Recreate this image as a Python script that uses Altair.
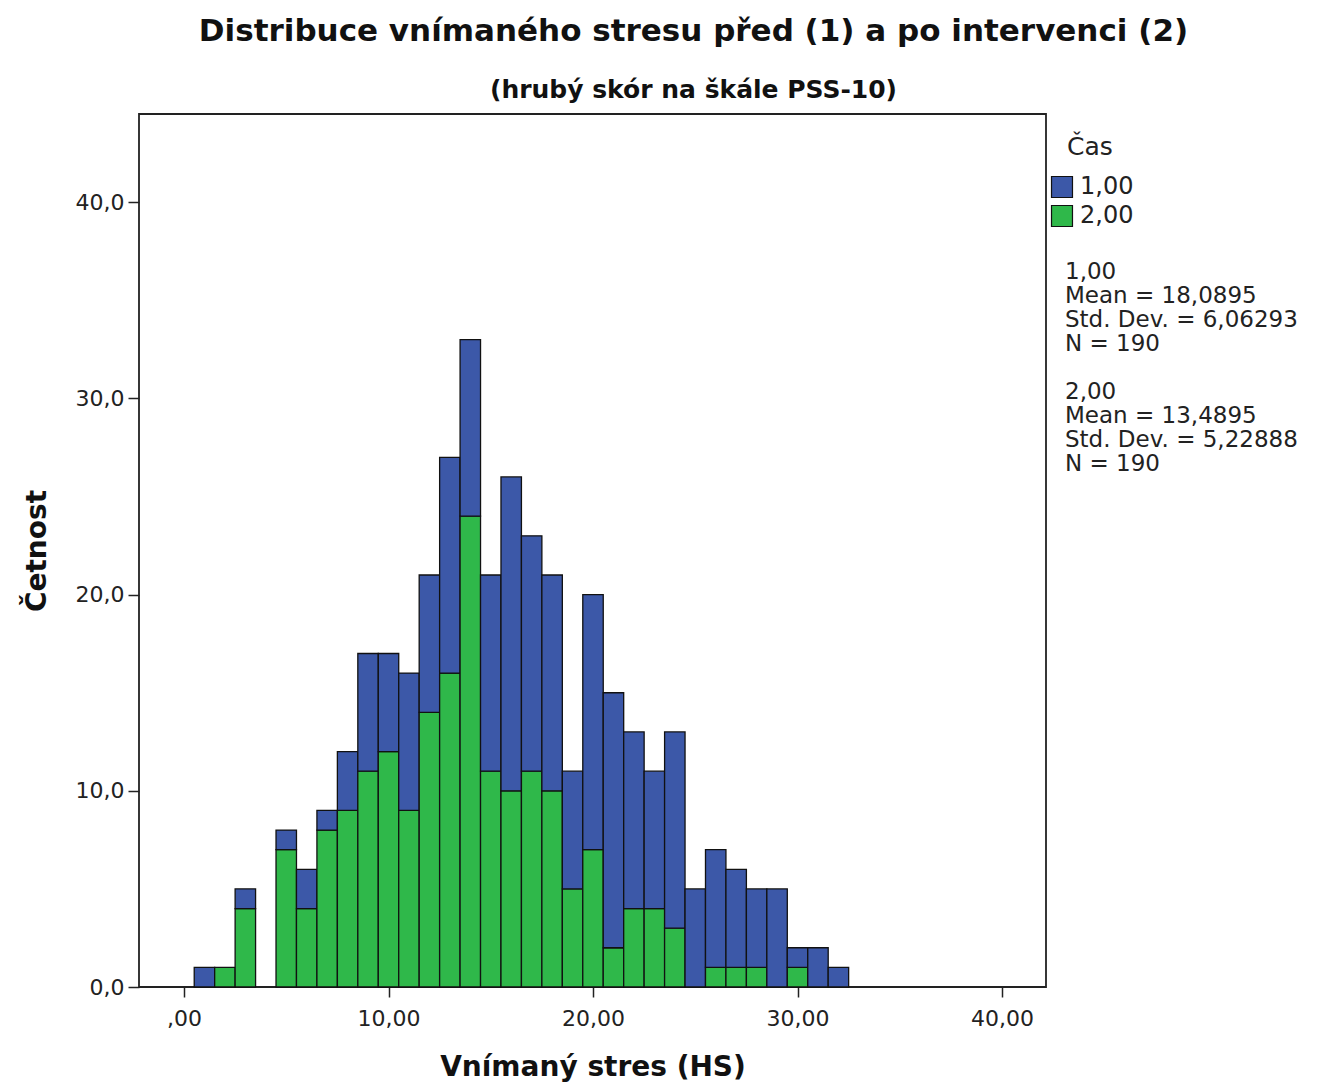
import altair as alt
import pandas as pd

# Data
scores = list(range(1, 33))
time1_counts = [1, 0, 1, 0, 1, 2, 1, 3, 6, 5, 7, 7, 11, 9, 10, 16, 12, 11, 6, 13, 13, 9, 7, 10, 5, 6, 5, 4, 5, 1, 2, 1]
time2_counts = [0, 1, 4, 0, 7, 4, 8, 9, 11, 12, 9, 14, 16, 24, 11, 10, 11, 10, 5, 7, 2, 4, 4, 3, 0, 1, 1, 1, 0, 1, 0, 0]
series_labels = ["1,00", "2,00"]
series_colors = ["#3C58A8", "#2FB84A"]
stats_1 = ["1,00", "Mean = 18,0895", "Std. Dev. = 6,06293", "N = 190"]
stats_2 = ["2,00", "Mean = 13,4895", "Std. Dev. = 5,22888", "N = 190"]

rows = []
for s, b, g in zip(scores, time1_counts, time2_counts):
    if g > 0:
        rows.append(dict(x0=s - 0.5, x1=s + 0.5, y0=0, y1=g, cas="2,00"))
    if b > 0:
        rows.append(dict(x0=s - 0.5, x1=s + 0.5, y0=g, y1=g + b, cas="1,00"))
df = pd.DataFrame(rows)

FONT = "DejaVu Sans"
W, H = 907, 873

x_scale = alt.Scale(domain=[-2.2, 42.15], nice=False, zero=False)
y_scale = alt.Scale(domain=[0, 44.5], nice=False)

bars = alt.Chart(df).mark_rect(stroke="#111111", strokeWidth=1.3).encode(
    x=alt.X("x0:Q", scale=x_scale,
            axis=alt.Axis(values=[0, 10, 20, 30, 40], title="Vnímaný stres (HS)",
                          labelExpr="datum.value == 0 ? ',00' : replace(format(datum.value, '.2f'), '.', ',')",
                          grid=False, tickSize=10, tickColor="#222", tickWidth=1.5,
                          labelFontSize=22, labelColor="#222", labelPadding=11,
                          titleFontSize=28, titleFontWeight="bold", titleColor="#111",
                          titlePadding=24, domain=False)),
    x2="x1:Q",
    y=alt.Y("y0:Q", scale=y_scale,
            axis=alt.Axis(values=[0, 10, 20, 30, 40], title="Četnost",
                          labelExpr="replace(format(datum.value, '.1f'), '.', ',')",
                          grid=False, tickSize=11, tickColor="#222", tickWidth=1.5,
                          labelFontSize=22, labelColor="#222", labelPadding=4,
                          titleFontSize=28, titleFontWeight="bold", titleColor="#111",
                          titlePadding=24, domain=False)),
    y2="y1:Q",
    color=alt.Color("cas:N", scale=alt.Scale(domain=series_labels, range=series_colors),
                    legend=alt.Legend(title=None, orient="none", legendX=911, legendY=61,
                                      symbolType="square", symbolSize=440,
                                      symbolStrokeColor="#111", symbolStrokeWidth=1.2,
                                      symbolOpacity=1,
                                      labelFontSize=24, labelColor="#222", labelFont=FONT,
                                      rowPadding=3, padding=0, labelOffset=6)),
)

cas_title = alt.Chart(pd.DataFrame({"t": ["Čas"]})).mark_text(
    align="left", baseline="alphabetic", fontSize=25, font=FONT, color="#222"
).encode(text="t:N", x=alt.value(928), y=alt.value(41))

stats_a = alt.Chart(pd.DataFrame({"t": [0]})).mark_text(
    align="left", baseline="top", fontSize=23, font=FONT, color="#222",
    lineHeight=24, text=stats_1
).encode(x=alt.value(926), y=alt.value(147))

stats_b = alt.Chart(pd.DataFrame({"t": [0]})).mark_text(
    align="left", baseline="top", fontSize=23, font=FONT, color="#222",
    lineHeight=24, text=stats_2
).encode(x=alt.value(926), y=alt.value(267))

chart = alt.layer(bars, cas_title, stats_a, stats_b).properties(
    width=W, height=H,
    title=alt.TitleParams(
        text="Distribuce vnímaného stresu před (1) a po intervenci (2)",
        subtitle="(hrubý skór na škále PSS-10)",
        font=FONT, fontSize=31, fontWeight="bold", color="#111",
        subtitleFont=FONT, subtitleFontSize=25, subtitleFontWeight="bold", subtitleColor="#111",
        subtitlePadding=30, anchor="middle", dx=101, offset=10,
    ),
    autosize=alt.AutoSizeParams(type="none"),
    padding={"left": 139, "top": 114, "right": 277, "bottom": 103},
).configure(font=FONT, background="white").configure_view(
    stroke="#222", strokeWidth=1.8
)

chart.save("out.html", embed_options={"renderer": "svg", "actions": False})
